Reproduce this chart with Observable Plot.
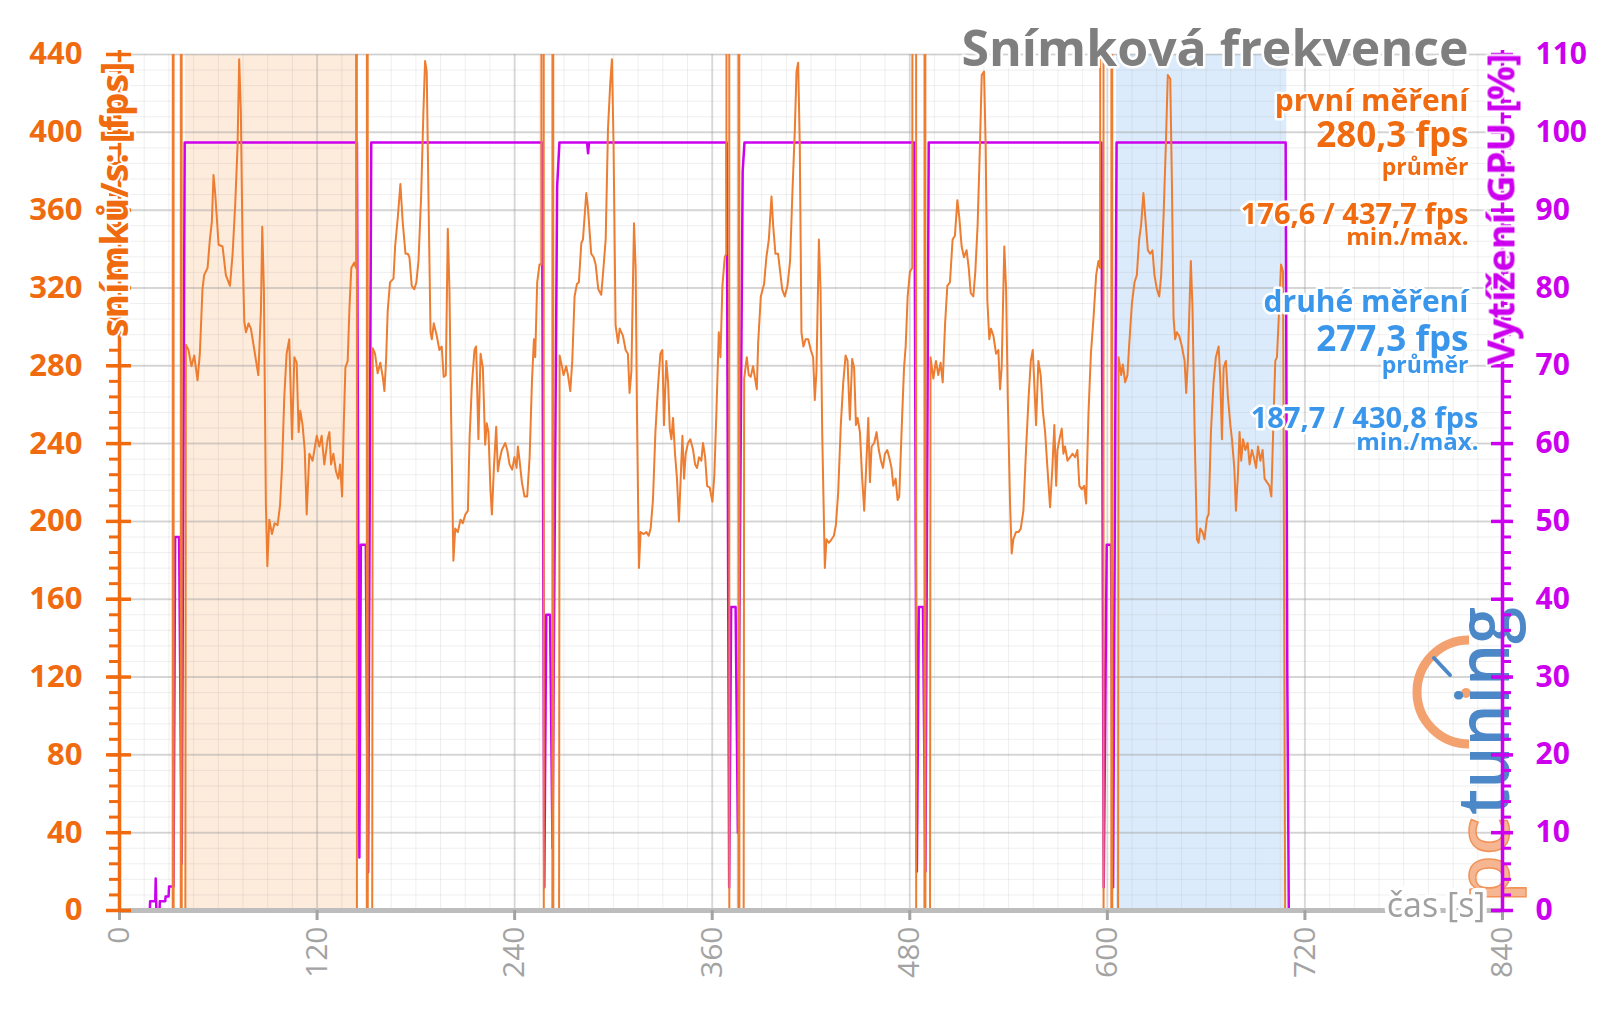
<!DOCTYPE html>
<html><head><meta charset="utf-8">
<script src="https://cdn.jsdelivr.net/npm/d3@7"></script>
<script src="https://cdn.jsdelivr.net/npm/@observablehq/plot@0.6"></script>
<style>
html,body{margin:0;padding:0;background:#fff;}
#chart{position:relative;width:1600px;height:1009px;overflow:hidden;}
#chart svg{display:block;}
</style>
</head><body><div id="chart"></div>
<script>
// ---------- DATA ----------
const xTicks = [0, 120, 240, 360, 480, 600, 720, 840];
const xMinor = d3.range(0, 841, 15);
const fpsMajor = d3.range(0, 441, 40);
const fpsMinor = d3.range(0, 441, 8);

// shaded measurement windows [start s, end s]
const firstWindow = [40, 143.8];
const secondWindow = [605.5, 709];

// frame rate (fps) : [time s, fps]
const fpsStart = [[0,0],[32.3,0],[32.6,3000],[32.9,0],[37.2,0],[37.5,3000],[37.8,0],[40.0,0]];
const run1 = [[40.3,290.8],[41.9,288.1],[43.7,279.8],[45.4,285.3],[47.4,272.5],[48.8,286.2],[50.4,319.3],[51.4,326.6],[53.5,330.3],[54.9,345.0],[56.1,354.1],[57.1,378.0],[58.1,368.8],[60.2,342.2],[62.6,341.3],[64.6,326.6],[67.1,321.1],[68.7,337.6],[70.3,363.3],[71.7,392.7],[72.7,437.6],[73.7,411.0],[74.8,337.6],[75.8,302.7],[76.8,297.2],[78.4,301.8],[79.8,299.1],[81.9,288.1],[84.3,275.2],[85.9,308.2],[86.7,351.4],[87.7,319.3],[88.9,209.2],[89.8,177.0],[91.0,200.9],[92.6,193.5],[94.2,199.0],[96.0,198.1],[97.5,208.2],[98.7,227.5],[100.1,264.2],[101.5,286.2],[103.1,293.6],[104.8,242.2],[106.2,284.4],[107.6,281.6],[108.8,245.9],[109.8,256.9],[111.2,249.5],[112.5,236.7],[113.7,203.6],[115.3,234.8],[117.3,231.2],[119.8,244.0],[121.4,238.5],[122.8,244.0],[124.4,229.3],[126.4,242.2],[127.5,245.9],[128.5,229.3],[129.9,234.8],[131.5,225.7],[132.9,222.0],[134.0,229.3],[135.2,212.8],[136.2,249.5],[137.2,278.9],[138.6,282.5],[139.6,308.2],[140.8,330.3],[142.5,333.0],[143.7,330.3]];
const gap1 = [[143.9,3000],[144.2,0],[150.2,0],[150.5,3000],[150.8,0],[153.5,0]];
const run2 = [[153.8,289.0],[155.2,286.2],[156.8,276.1],[158.4,281.6],[159.9,274.3],[160.9,267.0],[161.9,282.5],[162.9,308.2],[164.3,322.9],[166.4,324.8],[167.4,341.3],[169.0,356.0],[170.6,373.4],[172.0,354.1],[173.7,337.6],[175.1,337.6],[176.1,335.8],[177.5,321.1],[179.1,319.3],[180.3,322.9],[181.6,333.9],[183.2,367.0],[184.6,411.0],[185.6,436.7],[186.6,431.2],[187.6,370.6],[188.9,297.2],[189.7,293.6],[190.9,301.8],[192.7,295.4],[194.3,288.1],[195.7,289.9],[196.9,274.3],[198.2,275.2],[199.4,350.4],[200.4,319.3],[201.4,255.0],[202.8,179.8],[203.9,196.3],[205.5,194.5],[207.1,200.9],[208.5,199.1],[210.1,203.6],[211.6,205.5],[212.6,242.2],[214.0,269.7],[215.6,288.1],[216.6,289.9],[218.0,242.2],[219.3,286.2],[220.7,278.9],[222.1,239.4],[223.1,250.4],[224.1,245.9],[225.3,216.5],[226.2,203.6],[227.4,227.5],[228.8,248.6],[229.8,225.7],[230.8,231.2],[232.2,236.7],[234.3,240.3],[235.5,236.7],[236.9,229.3],[238.5,226.6],[239.9,233.0],[241.2,227.5],[242.0,238.5],[243.0,231.2],[244.4,220.2],[246.0,212.8],[247.6,212.8],[249.1,233.0],[250.5,271.5],[251.7,293.6],[252.5,284.4],[253.7,322.9],[255.1,332.1],[256.2,332.1]];
const gap2 = [[257.4,3000],[257.7,0],[262.9,0],[263.2,3000],[263.5,0],[267.0,0]];
const run3 = [[267.3,285.3],[268.7,279.8],[269.7,275.2],[271.3,279.8],[272.4,275.2],[273.8,267.0],[275.0,282.5],[276.4,315.6],[277.8,322.0],[279.0,322.9],[280.5,343.1],[281.5,344.9],[283.5,368.8],[284.5,361.5],[286.5,337.6],[288.0,335.8],[289.2,332.1],[290.8,319.3],[292.6,316.5],[293.6,326.6],[295.3,344.9],[296.7,401.8],[298.1,425.7],[299.1,437.6],[300.1,392.7],[301.3,300.9],[302.8,291.7],[303.8,299.1],[305.8,295.4],[307.4,288.1],[308.8,286.2],[309.8,266.0],[310.9,277.0],[312.5,353.2],[313.5,330.3],[314.3,255.0],[315.5,176.1],[316.5,194.5],[318.4,193.5],[320.0,194.5],[321.4,192.6],[322.6,196.3],[324.0,211.0],[325.5,245.9],[327.1,269.7],[328.5,286.2],[329.7,288.1],[330.7,249.5],[332.1,282.5],[333.2,271.5],[334.2,247.7],[335.2,242.2],[336.2,253.2],[337.4,234.8],[338.6,222.0],[339.8,200.0],[341.1,227.5],[341.9,244.0],[342.9,222.0],[343.9,234.8],[345.3,240.3],[346.7,242.2],[348.4,236.7],[349.6,229.3],[350.8,227.5],[352.0,233.0],[353.4,231.2],[354.4,240.3],[355.7,233.0],[356.9,218.3],[358.5,217.4],[360.1,210.1],[361.3,223.8],[362.5,255.0],[364.0,297.2],[365.0,284.4],[366.2,321.1],[367.6,335.8],[368.6,337.6]];
const gap3 = [[370.1,3000],[370.4,0],[375.9,0],[376.2,3000],[376.5,0],[379.1,0]];
const run4 = [[379.4,273.4],[381.0,284.4],[382.2,275.2],[383.4,274.3],[384.8,279.8],[386.2,272.5],[387.1,267.9],[387.9,291.7],[389.5,315.6],[391.5,322.0],[392.9,335.8],[394.4,344.9],[396.0,367.0],[397.0,352.3],[398.4,337.6],[400.0,337.6],[401.0,330.3],[402.5,319.3],[404.1,315.6],[405.7,321.1],[407.3,333.9],[408.7,368.8],[410.2,401.8],[411.2,431.2],[412.2,435.8],[413.2,392.7],[414.2,297.2],[415.4,289.9],[416.7,293.6],[418.3,293.6],[419.9,288.1],[421.3,284.4],[422.3,262.4],[423.3,277.0],[424.8,344.9],[425.8,319.3],[426.8,245.9],[428.4,176.1],[429.4,190.8],[430.8,189.0],[432.5,190.8],[433.9,192.6],[435.1,198.1],[436.5,214.7],[438.1,249.5],[439.6,271.5],[441.0,285.3],[442.2,282.5],[443.6,252.3],[445.0,283.5],[446.2,278.9],[447.3,249.5],[448.3,253.2],[449.7,245.9],[451.1,222.0],[452.3,205.5],[453.5,227.5],[454.8,253.2],[455.8,220.2],[456.8,238.5],[458.4,240.3],[459.8,245.9],[461.2,236.7],[462.5,231.2],[463.7,227.5],[464.9,234.8],[466.3,236.7],[467.5,233.0],[468.9,227.5],[470.0,218.3],[471.4,222.0],[472.6,211.0],[473.6,212.8],[475.0,245.9],[476.5,278.9],[477.5,289.9],[478.7,315.6],[480.1,328.4],[481.5,330.3]];
const gap4 = [[483.6,3000],[483.9,0],[488.9,0],[489.2,3000],[489.5,0],[492.3,0]];
const run5 = [[492.6,284.4],[494.3,273.4],[495.9,282.5],[497.3,275.2],[498.7,281.6],[500.0,271.5],[501.4,300.9],[502.8,321.1],[504.4,322.9],[506.0,344.9],[507.4,346.8],[508.9,365.1],[510.1,355.9],[511.5,341.3],[512.9,335.8],[514.5,339.4],[515.8,330.3],[517.0,317.4],[518.6,315.6],[519.8,328.4],[521.2,352.3],[522.6,392.7],[523.7,429.4],[525.1,431.2],[526.1,392.7],[527.1,313.7],[528.3,293.6],[529.3,299.1],[530.8,295.4],[532.4,286.2],[533.8,288.1],[534.8,267.9],[535.8,278.9],[537.4,341.3],[538.5,319.3],[539.5,264.2],[540.9,209.2],[541.9,183.5],[542.9,190.8],[544.5,194.5],[546.0,194.5],[547.4,196.3],[549.0,205.5],[550.6,236.7],[552.2,264.2],[553.5,282.5],[554.7,288.1],[555.5,273.4],[556.7,249.5],[558.1,282.5],[559.5,275.2],[560.8,256.9],[562.2,245.9],[563.6,227.5],[565.2,207.3],[566.6,227.5],[567.8,249.5],[568.9,218.3],[569.7,236.7],[570.9,242.2],[572.3,247.7],[573.3,234.8],[574.3,238.5],[575.8,231.2],[577.4,233.0],[578.8,234.8],[580.4,233.0],[581.8,236.7],[583.0,218.3],[584.5,216.5],[585.9,218.3],[587.1,209.2],[588.5,255.0],[590.0,286.2],[591.6,304.6],[593.2,326.6],[594.6,333.9],[595.6,330.3]];
const gap5 = [[597.4,3000],[597.7,0],[602.4,0],[602.7,3000],[603.0,0],[606.5,0]];
const run6 = [[606.8,284.4],[608.4,275.2],[609.4,280.7],[610.8,271.5],[612.2,275.2],[613.2,289.9],[614.9,311.9],[616.5,322.9],[617.9,326.6],[619.3,344.9],[620.5,352.3],[621.9,368.8],[623.4,352.3],[624.6,339.4],[626.0,337.6],[627.4,339.4],[628.6,326.6],[630.1,319.3],[631.5,315.6],[632.7,326.6],[634.1,356.0],[635.5,392.7],[636.7,429.4],[638.2,427.5],[639.2,374.3],[640.2,304.6],[641.2,293.6],[642.2,297.2],[643.6,295.4],[645.3,289.9],[646.9,282.5],[647.9,266.0],[648.9,282.5],[650.7,333.9],[651.7,310.1],[653.0,245.9],[654.4,190.8],[655.4,189.0],[656.4,196.3],[657.8,194.5],[659.0,190.8],[660.5,201.8],[661.5,203.6],[662.9,245.9],[664.5,271.5],[665.9,284.4],[667.6,289.9],[668.6,273.4],[669.6,242.2],[670.6,278.9],[672.0,282.5],[673.2,264.2],[674.7,249.5],[675.7,242.2],[677.1,227.5],[678.1,205.5],[679.3,223.8],[680.3,245.9],[681.3,231.2],[682.4,242.2],[683.8,236.7],[685.2,240.3],[686.4,229.3],[687.8,236.7],[689.0,233.0],[690.3,227.5],[691.5,238.5],[692.9,231.2],[694.3,236.7],[695.5,222.0],[696.9,220.2],[698.4,218.3],[699.6,212.8],[701.0,255.0],[702.0,282.5],[703.0,284.4],[704.0,302.7],[705.5,332.1],[706.7,328.4]];
const fpsEnd = [[708.0,0],[767,0]];

// GPU load (%) : [time s, %]
const gpuLoad = [[0,0],[18.4,0],[18.6,1.2],[21.7,1.2],[22.0,4.1],[22.4,0],[24.3,0],[24.5,1.2],[27.8,1.2],[28.0,1.8],[29.8,1.8],[30.1,3.1],[32.8,3.1],[33.8,48],[36.2,48],[37.8,6],[39.6,98.7],
 [144.2,98.7],[145.7,6.8],[146.6,47],[149.6,47],[151.0,4.9],[152.9,98.7],
 [256.6,98.7],[258.0,3],[259.2,38],[261.5,38],[263.0,8],[265.8,93],[267.2,98.7],
 [284.0,98.7],[284.6,97.3],[285.2,98.7],
 [368.8,98.7],[370.3,3],[371.5,39],[374.2,39],[375.6,10],[378.5,95],[379.6,98.7],
 [482.8,98.7],[484.3,5],[485.5,39],[488.0,39],[489.5,5],[491.5,98.7],
 [596.4,98.7],[597.8,3],[599.6,47],[602.2,47],[603.5,3],[605.6,98.7],
 [708.3,98.7],[709.3,30],[710.2,0],[767,0]];

// texts
const chartTitle = "Snímková frekvence";
const leftTitle = "snímků/s: [fps]";
const rightTitle = "Vytížení GPU [%]";
const xTitle = "čas [s]";
const notes = ["první měření","280,3 fps","průměr","176,6 / 437,7 fps","min./max.",
               "druhé měření","277,3 fps","průměr","187,7 / 430,8 fps","min./max."];
const logoParts = ["pc", "tuning"];

// ---------- STYLE ----------
const ORANGE = "#f06a0f", LINE_OR = "#ed7d31", MAGENTA = "#cc00ee", BLUE = "#3a96ea", GRAY = "#7f7f7f";
const FONT = "'Open Sans', Lato, sans-serif";
// [fontSize, dx, dy, color] for notes
const noteLayout = [[30,-34,46.4,ORANGE],[35,-34,81.5,ORANGE],[23,-34,113.6,ORANGE],[29,-34,160.7,ORANGE],[24,-34,183.3,ORANGE],
                    [30,-34,248.1,BLUE],[35,-34,284.8,BLUE],[23,-34,311.6,BLUE],[29,-24,364.7,BLUE],[24,-24,388.3,BLUE]];

const toObj = a => a.map(([t, v]) => ({t, v}));
const fpsData = toObj([...fpsStart, ...run1, ...gap1, ...run2, ...gap2, ...run3, ...gap3, ...run4, ...gap4, ...run5, ...gap5, ...run6, ...fpsEnd]);
const gpuData = toObj(gpuLoad);
const bands = [{a: firstWindow[0], b: firstWindow[1], c: "#fdebdc"}, {a: secondWindow[0], b: secondWindow[1], c: "#dcebfb"}];

const noteMarks = notes.map((s, i) => Plot.text([s], {
  frameAnchor: "top-right", lineAnchor: "middle", textAnchor: "end", dx: noteLayout[i][1], dy: noteLayout[i][2],
  fontSize: noteLayout[i][0], fontWeight: "bold", fill: noteLayout[i][3], stroke: "white", strokeWidth: 5
}));

const chart = Plot.plot({
  width: 1600, height: 1009,
  marginLeft: 119, marginRight: 98, marginTop: 54, marginBottom: 99,
  x: {domain: [0, 840]},
  y: {domain: [0, 440]},
  style: {fontFamily: FONT, background: "white", overflow: "visible"},
  marks: [
    Plot.rect(bands, {x1: "a", x2: "b", y1: 0, y2: 440, fill: "c"}),
    Plot.ruleY(fpsMinor, {stroke: "#9a9a9a", strokeOpacity: 0.16, strokeWidth: 1}),
    Plot.ruleX(xMinor, {stroke: "#9a9a9a", strokeOpacity: 0.16, strokeWidth: 1}),
    Plot.ruleY(fpsMajor, {stroke: "#a0a0a0", strokeOpacity: 0.38, strokeWidth: 2}),
    Plot.ruleX(xTicks, {stroke: "#a0a0a0", strokeOpacity: 0.32, strokeWidth: 2}),
    Plot.line(gpuData, {x: "t", y: d => d.v * 4, stroke: MAGENTA, strokeWidth: 2.5, clip: true}),
    Plot.line(fpsData, {x: "t", y: "v", stroke: LINE_OR, strokeWidth: 2, clip: true}),
    // x axis
    Plot.ruleY([0], {stroke: "#bdbdbd", strokeWidth: 5}),
    Plot.axisX({ticks: xTicks, tickSize: 10, tickPadding: 6, tickRotate: -90, fontSize: 30, color: "#a3a3a3", strokeWidth: 3, label: null}),
    // left axis
    Plot.ruleX([0], {y1: 0, y2: 442, stroke: ORANGE, strokeWidth: 3.5}),
    Plot.ruleY(fpsMinor, {x1: 0, x2: 0, insetLeft: -10, insetRight: 0, stroke: ORANGE, strokeWidth: 3}),
    Plot.ruleY(fpsMajor, {x1: 0, x2: 0, insetLeft: -13, insetRight: -12, stroke: ORANGE, strokeWidth: 3.5}),
    Plot.axisY({ticks: fpsMajor, tickSize: 0, tickPadding: 37, fontSize: 31, fontWeight: "bold", color: ORANGE, label: null}),
    // right axis
    Plot.ruleX([840], {y1: 0, y2: 442, stroke: MAGENTA, strokeWidth: 3.5}),
    Plot.ruleY(fpsMinor, {x1: 840, x2: 840, insetLeft: 0, insetRight: -9, stroke: MAGENTA, strokeWidth: 3}),
    Plot.ruleY(fpsMajor, {x1: 840, x2: 840, insetLeft: -11, insetRight: -11, stroke: MAGENTA, strokeWidth: 3.5}),
    Plot.axisY({anchor: "right", ticks: fpsMajor, tickFormat: d => d / 4, tickSize: 0, tickPadding: 33, fontSize: 30, fontWeight: "bold", color: MAGENTA, label: null}),
    // titles
    Plot.text([leftTitle], {frameAnchor: "top-left", lineAnchor: "middle", rotate: -90, textAnchor: "end", dx: -4, dy: 7, fontSize: 37.5, fontWeight: "bold", fill: ORANGE, stroke: "white", strokeWidth: 4}),
    Plot.text([rightTitle], {frameAnchor: "top-right", lineAnchor: "middle", rotate: -90, textAnchor: "end", dx: 0, dy: -1, fontSize: 38, fontWeight: "bold", fill: MAGENTA, stroke: "white", strokeWidth: 4}),
    Plot.text([xTitle], {frameAnchor: "bottom-right", lineAnchor: "middle", textAnchor: "end", dx: -17, dy: -4, fontSize: 34, fill: "#a0a0a0", stroke: "white", strokeWidth: 8}),
    Plot.text([chartTitle], {frameAnchor: "top-right", lineAnchor: "middle", textAnchor: "end", dx: -34, dy: -5, fontSize: 50, fontWeight: "bold", fill: GRAY, stroke: "white", strokeWidth: 5}),
    ...noteMarks
  ]
});
document.getElementById("chart").appendChild(chart);

// pctuning logo (decoration), placed under the axes
(function addLogo() {
  const g = d3.create("svg:g").attr("opacity", 0.92).attr("text-anchor", "start");
  const cx = 1469, cy = 692, r = 52;
  g.append("path").attr("d", `M${cx},${cy - r} A${r},${r} 0 0 0 ${cx},${cy + r}`)
    .attr("fill", "none").attr("stroke", "#f29a63").attr("stroke-width", 9);
  g.append("line").attr("x1", 1434).attr("y1", 658).attr("x2", 1450).attr("y2", 675)
    .attr("stroke", "#3d7ec4").attr("stroke-width", 4).attr("stroke-linecap", "round");
  g.append("circle").attr("cx", 1466).attr("cy", 693).attr("r", 5).attr("fill", "#f29a63");
  g.append("text").text(logoParts[0]).attr("transform", "translate(1509,903) rotate(-90)")
    .attr("text-anchor", "start")
    .attr("font-family", "'Open Sans', sans-serif").attr("font-size", 72).attr("font-weight", 600)
    .attr("fill", "#f6b088").attr("stroke", "#f08a4b").attr("stroke-width", 1.5)
    .attr("textLength", 86).attr("lengthAdjust", "spacingAndGlyphs");
  g.append("text").text(logoParts[1]).attr("transform", "translate(1509,815) rotate(-90)")
    .attr("text-anchor", "start")
    .attr("font-family", "'Open Sans', sans-serif").attr("font-size", 72).attr("font-weight", 600)
    .attr("fill", "#3d7ec4")
    .attr("textLength", 208).attr("lengthAdjust", "spacingAndGlyphs");
  const lines = chart.querySelectorAll('g[aria-label="line"]');
  const last = lines[lines.length - 1];
  last.parentNode.insertBefore(g.node(), last.nextSibling);
})();
</script>
</body></html>
